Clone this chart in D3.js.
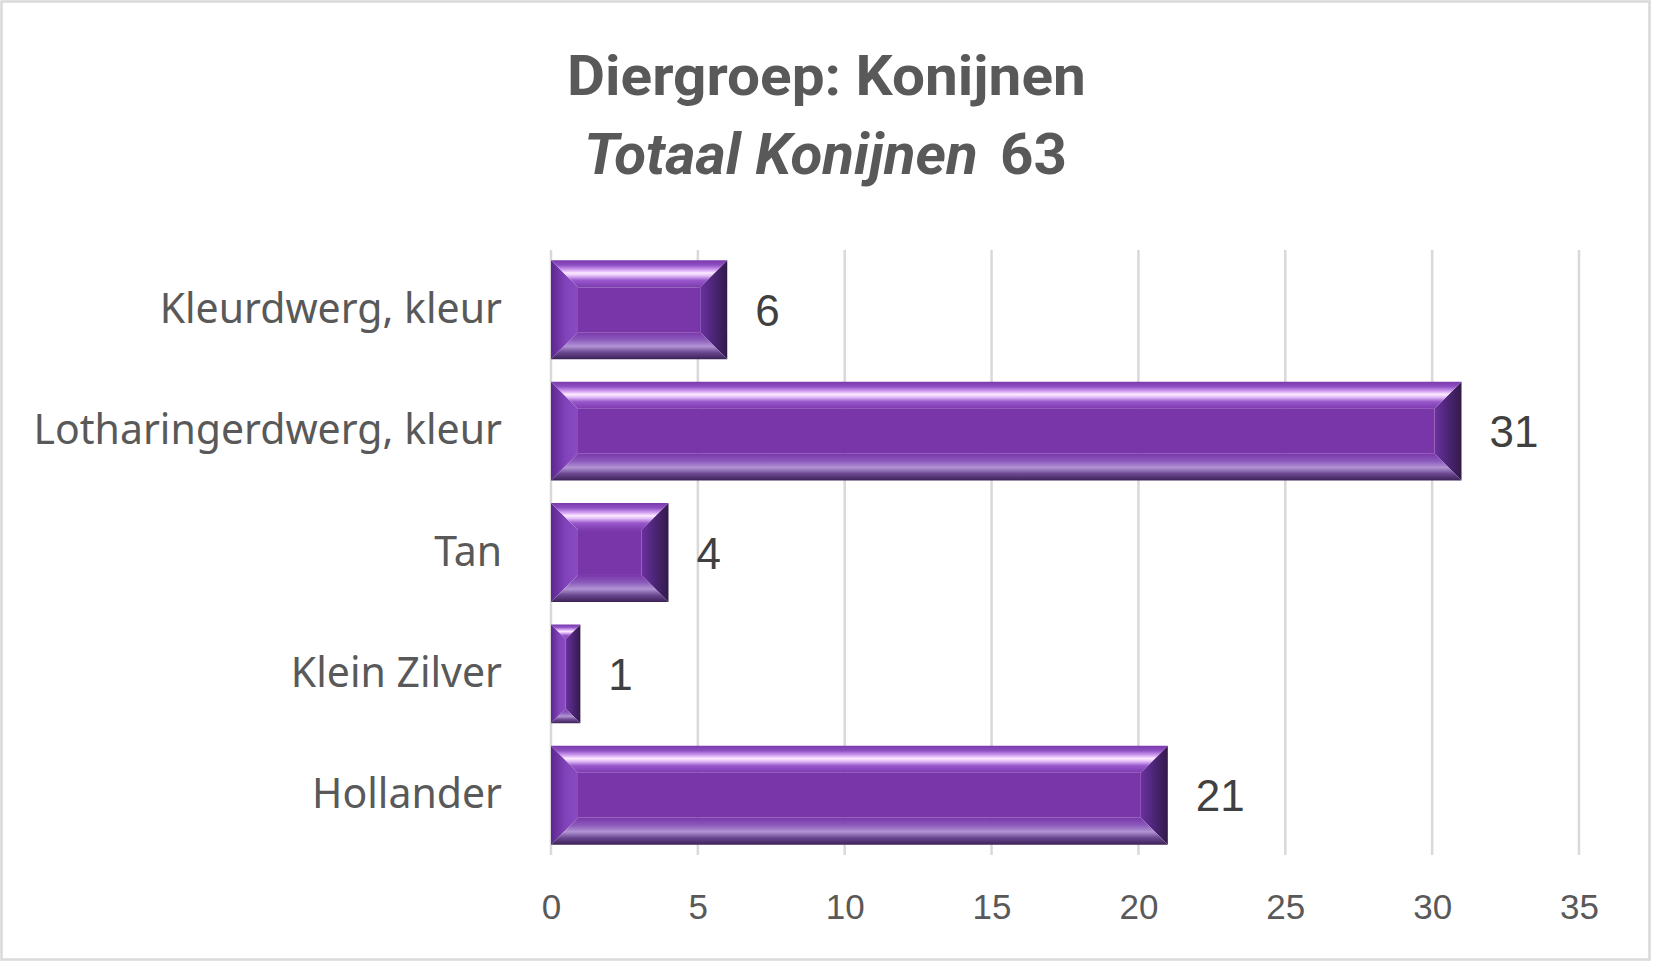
<!DOCTYPE html>
<html>
<head>
<meta charset="utf-8">
<script src="https://cdn.jsdelivr.net/npm/d3@7"></script>
<style>
  body { margin: 0; background: #fff; }
  svg { display: block; }
</style>
</head>
<body>
<svg></svg>
<script>
var categories = ["Kleurdwerg, kleur", "Lotharingerdwerg, kleur", "Tan", "Klein Zilver", "Hollander"];
var counts = [6, 31, 4, 1, 21];
var xTicks = [0, 5, 10, 15, 20, 25, 30, 35];
var titleLine1 = "Diergroep: Konijnen";
var titleItalic = "Totaal Konijnen";
var titleTotal = "63";

var svgWidth = 1653, svgHeight = 963;

var svg = d3.select("svg")
   .attr("width", svgWidth)
   .attr("height", svgHeight);

// outer frame
svg.append("rect")
   .attr("x", 1.5).attr("y", 1.5)
   .attr("width", svgWidth - 5).attr("height", svgHeight - 5)
   .attr("fill", "#fff")
   .attr("stroke", "#d9d9d9")
   .attr("stroke-width", 2.5);

// bevel gradients
var defs = svg.append("defs");
function grad(id, horiz, stops) {
   var g = defs.append("linearGradient").attr("id", id)
      .attr("x1", 0).attr("y1", 0)
      .attr("x2", horiz ? 1 : 0).attr("y2", horiz ? 0 : 1);
   stops.forEach(function(s) {
      g.append("stop").attr("offset", s[0]).attr("stop-color", s[1]);
   });
}
grad("bev-top", false, [[0, "#7b39ad"], [0.18, "#8e50c3"], [0.36, "#d6a4f4"], [0.47, "#fdeaff"], [0.57, "#e4bff8"], [0.74, "#9858cb"], [1, "#7c3aae"]]);
grad("bev-bottom", false, [[0, "#7a37aa"], [0.28, "#8b5bbc"], [0.52, "#b294d4"], [0.75, "#6a4790"], [1, "#3c2256"]]);
grad("bev-left", true, [[0, "#5c2790"], [0.55, "#8243bb"], [1, "#8a4cc2"]]);
grad("bev-right", true, [[0, "#6a31a0"], [0.5, "#4c2576"], [1, "#321a48"]]);

// scales
var x = d3.scaleLinear().domain([0, 35]).range([551, 1579]);
var y = d3.scaleBand().domain(categories).range([250, 855])
   .paddingInner(0.185).paddingOuter(0.085);

// gridlines
svg.append("g").selectAll("line")
   .data(xTicks)
   .enter()
   .append("line")
   .attr("x1", function(d){ return x(d); })
   .attr("x2", function(d){ return x(d); })
   .attr("y1", 250).attr("y2", 855)
   .attr("stroke", "#d9d9d9")
   .attr("stroke-width", 2.5);

// x axis labels
var xAxis = d3.axisBottom(x).tickValues(xTicks).tickSize(0).tickPadding(0);
var ax = svg.append("g").attr("transform", "translate(0,894)").call(xAxis);
ax.select(".domain").remove();
ax.selectAll("text")
   .attr("dy", "0.71em")
   .attr("font-family", "'Liberation Sans', Arial, sans-serif")
   .attr("font-size", 35)
   .attr("fill", "#595959");

// bars with bevel
var bars = svg.append("g").selectAll("g")
   .data(counts)
   .enter()
   .append("g");

function pts(a) { return a.map(function(p){ return p.join(","); }).join(" "); }

bars.each(function(d, i) {
   var g = d3.select(this);
   var x0 = x(0), x1 = x(d);
   var y0 = y(categories[i]), y1 = y0 + y.bandwidth();
   var b = Math.min(27, (x1 - x0) / 2, (y1 - y0) / 2);
   g.append("rect")
      .attr("x", x0 + b).attr("y", y0 + b)
      .attr("width", Math.max(0, x1 - x0 - 2 * b))
      .attr("height", y1 - y0 - 2 * b)
      .attr("fill", "#7836a8");
   g.append("polygon").attr("fill", "url(#bev-left)")
      .attr("points", pts([[x0, y0], [x0 + b, y0 + b], [x0 + b, y1 - b], [x0, y1]]));
   g.append("polygon").attr("fill", "url(#bev-right)")
      .attr("points", pts([[x1 - b, y0 + b], [x1, y0], [x1, y1], [x1 - b, y1 - b]]));
   g.append("polygon").attr("fill", "url(#bev-top)")
      .attr("points", pts([[x0, y0], [x1, y0], [x1 - b, y0 + b], [x0 + b, y0 + b]]));
   g.append("polygon").attr("fill", "url(#bev-bottom)")
      .attr("points", pts([[x0 + b, y1 - b], [x1 - b, y1 - b], [x1, y1], [x0, y1]]));
});

// value labels
svg.append("g").selectAll("text")
   .data(counts)
   .enter()
   .append("text")
   .attr("x", function(d){ return x(d) + 28; })
   .attr("y", function(d, i){ return y(categories[i]) + y.bandwidth() / 2 + 16; })
   .attr("font-family", "'Liberation Sans', Arial, sans-serif")
   .attr("font-size", 44)
   .attr("fill", "#404040")
   .text(function(d){ return d; });

// category labels
svg.append("g").selectAll("text")
   .data(categories)
   .enter()
   .append("text")
   .attr("x", 502)
   .attr("y", function(d){ return y(d) + y.bandwidth() / 2 + 13; })
   .attr("text-anchor", "end")
   .attr("font-family", "'Noto Sans', sans-serif")
   .attr("font-size", 41)
   .attr("fill", "#595959")
   .text(function(d){ return d; });

// title, squeezed to look like a narrow font
function fitText(t, left, right, base) {
   var w = t.node().getBBox().width;
   t.attr("transform", "translate(" + left + "," + base + ") scale(" + ((right - left) / w) + ",1)");
}
var t1 = svg.append("text")
   .attr("font-family", "Roboto, sans-serif")
   .attr("font-weight", "bold")
   .attr("font-size", 56)
   .attr("fill", "#595959")
   .text(titleLine1);
fitText(t1, 567, 1086, 95);

var t2 = svg.append("text")
   .attr("font-family", "Roboto, sans-serif")
   .attr("font-weight", "bold")
   .attr("font-size", 58)
   .attr("fill", "#595959");
t2.append("tspan").attr("font-style", "italic").text(titleItalic);
t2.append("tspan").attr("dx", 22).text(titleTotal);
fitText(t2, 584, 1067, 174);
</script>
</body>
</html>
